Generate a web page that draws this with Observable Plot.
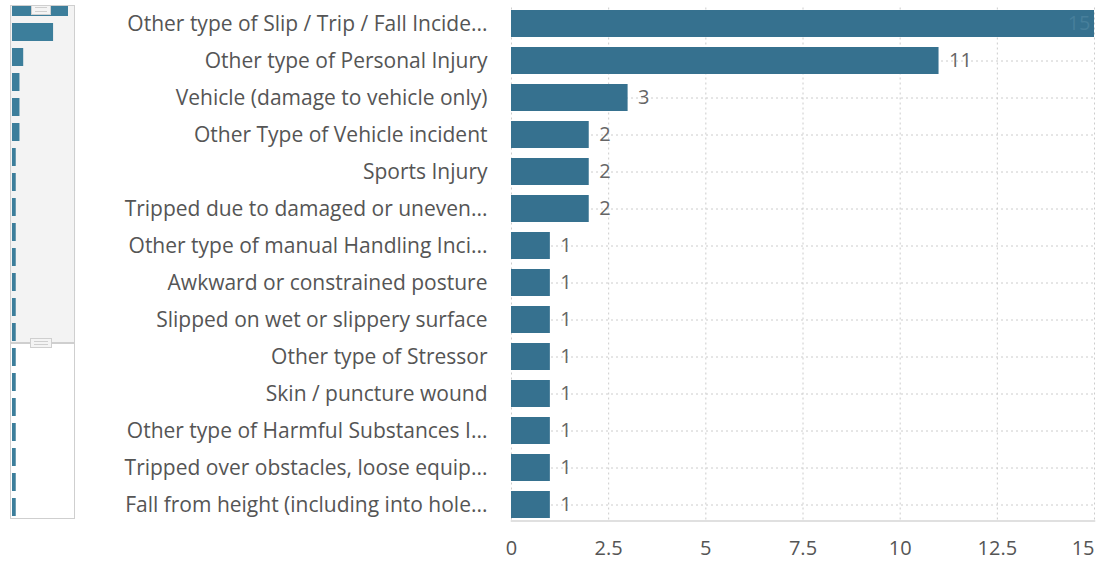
<!DOCTYPE html>
<html>
<head>
<meta charset="utf-8">
<script src="https://cdn.jsdelivr.net/npm/d3@7"></script>
<script src="https://cdn.jsdelivr.net/npm/@observablehq/plot@0.6"></script>
<style>
  html, body { margin: 0; padding: 0; background: #fff; }
  #root { position: relative; width: 1101px; height: 562px; overflow: hidden; font-family: "Open Sans", sans-serif; }
  #root svg { max-width: none !important; }
  #main { position: absolute; left: 0; top: 0; width: 1101px; }
  #slider { position: absolute; left: 10px; top: 5px; width: 63px; height: 512px; border: 1.5px solid #cfcfcf; overflow: hidden; background: #fff; }
  #window { position: absolute; left: 0; top: 0; width: 100%; height: 336px; background: #f3f3f3; border-bottom: 2px solid #cfcfcf; }
  #mini { position: absolute; left: -11.5px; top: -12.3px; width: 80px; height: 530px; }
  .handle { position: absolute; background: #f4f4f4; border: 1.5px solid #cfcfcf; box-sizing: border-box; }
  .handle::before, .handle::after { content: ""; position: absolute; left: 3px; right: 3px; height: 1px; background: #cfcfcf; }
  .handle::before { top: 2px; } .handle::after { bottom: 2px; }
</style>
</head>
<body>
<div id="root">
  <div id="main"></div>
  <div id="slider">
    <div id="window"></div>
    <div id="mini"></div>
    <div class="handle" style="left:20px; top:-2px; width:20px; height:11px;"></div>
    <div class="handle" style="left:19px; top:332px; width:22px; height:10px;"></div>
  </div>
</div>
<script>
const categories = [
  "Other type of Slip / Trip / Fall Incide...",
  "Other type of Personal Injury",
  "Vehicle (damage to vehicle only)",
  "Other Type of Vehicle incident",
  "Sports Injury",
  "Tripped due to damaged or uneven...",
  "Other type of manual Handling Inci...",
  "Awkward or constrained posture",
  "Slipped on wet or slippery surface",
  "Other type of Stressor",
  "Skin / puncture wound",
  "Other type of Harmful Substances I...",
  "Tripped over obstacles, loose equip...",
  "Fall from height (including into hole..."
];
const counts = [15, 11, 3, 2, 2, 2, 1, 1, 1, 1, 1, 1, 1, 1];
const tickValues = [0, 2.5, 5, 7.5, 10, 12.5, 15];
const tickLabels = ["0", "2.5", "5", "7.5", "10", "12.5", "15"];
// full series shown in the overview slider (visible window + rows below it)
const overviewCounts = [15, 11, 3, 2, 2, 2, 1, 1, 1, 1, 1, 1, 1, 1, 1, 1, 1, 1, 1, 1, 1];

const barColor = "#36718f";
const data = categories.map((name, i) => ({name, count: counts[i]}));
const maxCount = d3.max(counts);
const lastTick = tickValues[tickValues.length - 1];
const fmt = (d) => tickLabels[tickValues.indexOf(d)];

const main = Plot.plot({
  width: 1101,
  height: 562,
  marginLeft: 511,
  marginRight: 7,
  marginTop: 7.5,
  marginBottom: 41.5,
  style: {fontFamily: "Open Sans, sans-serif", background: "transparent"},
  x: {domain: [0, 15], axis: null},
  y: {domain: categories, paddingInner: 0.26, paddingOuter: 0, axis: null},
  marks: [
    Plot.gridX(tickValues, {stroke: "#cccccc", strokeOpacity: 1, strokeDasharray: "2,3"}),
    Plot.gridY({stroke: "#cccccc", strokeOpacity: 1, strokeDasharray: "2,3"}),
    Plot.frame({anchor: "bottom", stroke: "#d6d6d6", strokeWidth: 1.5}),
    Plot.barX(data, {x: "count", y: "name", fill: barColor}),
    Plot.text(data.filter(d => d.count < maxCount), {x: "count", y: "name", text: d => String(d.count), dx: 10, textAnchor: "start", fill: "#666", fontSize: 20}),
    Plot.text(data.filter(d => d.count === maxCount), {x: "count", y: "name", text: d => String(d.count), dx: -4, textAnchor: "end", fill: "#477f9b", fontSize: 20}),
    Plot.axisX(tickValues.filter(t => t !== lastTick), {tickSize: 0, tickPadding: 19.5, tickFormat: fmt, fontSize: 20, fill: "#555", label: null}),
    Plot.axisX([lastTick], {tickSize: 0, tickPadding: 19.5, tickFormat: fmt, fontSize: 20, fill: "#555", textAnchor: "end", label: null}),
    Plot.axisY({tickSize: 0, tickPadding: 24, fontSize: 21, fill: "#555", label: null})
  ]
});
document.getElementById("main").appendChild(main);

const overview = overviewCounts.map((v, i) => ({i, v}));
const mini = Plot.plot({
  width: 80,
  height: 530,
  marginLeft: 12,
  marginRight: 12,
  marginTop: 0,
  marginBottom: 5,
  style: {background: "transparent"},
  x: {domain: [0, 15], axis: null},
  y: {domain: overview.map(d => d.i), paddingInner: 0.28, paddingOuter: 0, axis: null},
  marks: [
    Plot.barX(overview, {x: "v", y: "i", fill: "#3c7e9b"})
  ]
});
document.getElementById("mini").appendChild(mini);
</script>
</body>
</html>
